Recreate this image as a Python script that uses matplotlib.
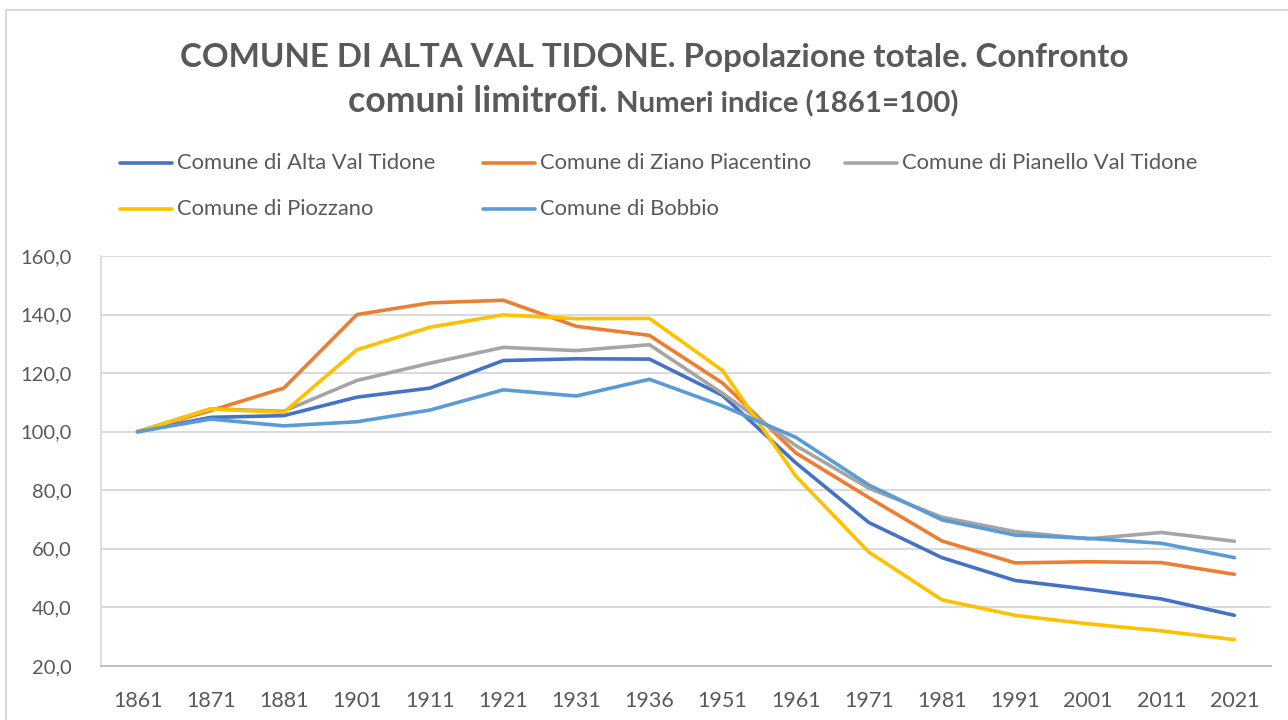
import matplotlib.pyplot as plt
from matplotlib.lines import Line2D
from matplotlib.patches import Rectangle

years = ["1861", "1871", "1881", "1901", "1911", "1921", "1931", "1936",
         "1951", "1961", "1971", "1981", "1991", "2001", "2011", "2021"]

alta_val_tidone = [100.0, 104.9, 105.5, 111.8, 114.9, 124.3, 124.9, 124.8,
                   112.4, 89.4, 69.0, 57.0, 49.2, 46.2, 42.9, 37.3]
ziano = [100.0, 107.2, 114.9, 140.0, 144.0, 144.9, 136.0, 132.9,
         116.6, 92.8, 77.5, 62.7, 55.2, 55.6, 55.3, 51.3]
pianello = [100.0, 107.8, 107.0, 117.5, 123.4, 128.8, 127.7, 129.7,
            113.1, 95.3, 80.7, 70.8, 65.9, 63.4, 65.6, 62.6]
piozzano = [100.0, 107.8, 106.6, 128.0, 135.7, 139.9, 138.6, 138.7,
            120.9, 84.9, 58.9, 42.6, 37.3, 34.4, 32.0, 29.0]
bobbio = [100.0, 104.3, 102.0, 103.4, 107.4, 114.3, 112.2, 117.9,
          108.8, 98.1, 81.8, 69.9, 64.7, 63.6, 61.9, 57.0]

series = [
    ("Comune di Alta Val Tidone", alta_val_tidone, "#4472C4"),
    ("Comune di Ziano Piacentino", ziano, "#ED7D31"),
    ("Comune di Pianello Val Tidone", pianello, "#A5A5A5"),
    ("Comune di Piozzano", piozzano, "#FFC000"),
    ("Comune di Bobbio", bobbio, "#5B9BD5"),
]

TXT = "#595959"
FONT = "Lato"
W, H = 1288, 720

fig = plt.figure(figsize=(W / 100, H / 100), dpi=100)
fig.add_artist(Rectangle((6 / W, -0.1), 1.2, (H - 10) / H + 0.1,
                         transform=fig.transFigure, fill=False,
                         edgecolor="#D9D9D9", linewidth=1.5))

ax = fig.add_axes([101 / W, (H - 666) / H, 1170 / W, 410 / H])
x = list(range(len(years)))
for name, vals, col in series:
    ax.plot(x, vals, color=col, linewidth=2.6, solid_capstyle="round", zorder=3)

ax.set_xlim(-0.5, len(years) - 0.5)
ax.set_ylim(20, 160)
ax.set_yticks(range(20, 161, 20))
ax.set_yticklabels([f"{v},0" for v in range(20, 161, 20)])
ax.set_xticks(x)
ax.set_xticklabels(years)
ax.tick_params(length=0, labelcolor=TXT)
ax.tick_params(axis="y", pad=21, labelsize=14.5)
ax.tick_params(axis="x", pad=18, labelsize=15.5)
for lab in ax.get_xticklabels() + ax.get_yticklabels():
    lab.set_family(FONT)
ax.grid(axis="y", color="#D9D9D9", linewidth=1.4)
ax.set_axisbelow(True)
for s in ["top", "right"]:
    ax.spines[s].set_visible(False)
ax.spines["bottom"].set_color("#BFBFBF")
ax.spines["bottom"].set_linewidth(1.4)
ax.spines["left"].set_color("#D9D9D9")
ax.spines["left"].set_linewidth(1.2)

# title
fig.text(654 / W, 1 - 57 / H, "COMUNE DI ALTA VAL TIDONE. Popolazione totale. Confronto",
         ha="center", va="center", fontsize=23.9, fontweight="bold", color=TXT, family=FONT)
t2a = fig.text(0, 0, "comuni limitrofi. ", ha="left", va="baseline",
               fontsize=25.6, fontweight="bold", color=TXT, family=FONT)
t2b = fig.text(0, 0, "Numeri indice (1861=100)", ha="left", va="baseline",
               fontsize=21.2, fontweight="bold", color=TXT, family=FONT)
fig.canvas.draw()
r = fig.canvas.get_renderer()
wa = t2a.get_window_extent(r).width
wb = t2b.get_window_extent(r).width
x0 = 653 - (wa + wb) / 2
t2a.set_position((x0 / W, 1 - 112 / H))
t2b.set_position(((x0 + wa) / W, 1 - 112 / H))

# legend
leg_pos = [(120, 163), (483, 163), (845, 163), (120, 209), (483, 209)]
for (name, vals, col), (lx, ly) in zip(series, leg_pos):
    fig.add_artist(Line2D([lx / W, (lx + 52) / W], [1 - ly / H, 1 - ly / H],
                          transform=fig.transFigure, color=col, linewidth=2.6,
                          solid_capstyle="round"))
    fig.text((lx + 57) / W, 1 - ly / H, name, ha="left", va="center",
             fontsize=15.8, color=TXT, family=FONT)

fig.savefig("out.png", dpi=100)
